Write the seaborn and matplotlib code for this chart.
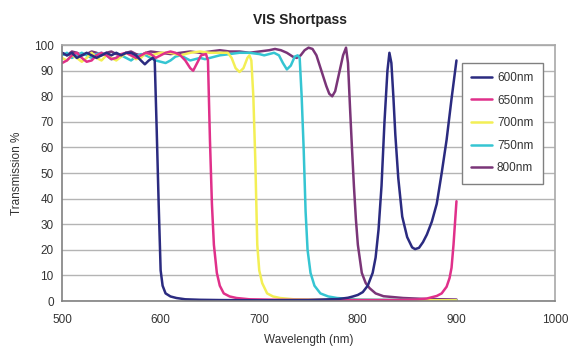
import numpy as np
import pandas as pd
import matplotlib
matplotlib.use("Agg")
import matplotlib.pyplot as plt
import seaborn as sns

wl_600 = [500, 505, 510, 515, 520, 525, 530, 535, 540, 545, 550, 555, 560, 565, 570, 575, 580, 584, 588,
          592, 594, 596, 598, 600, 602, 605, 610, 616, 625, 640, 660, 700, 750, 780, 790, 795, 800, 805, 810,
          815, 818, 821, 824, 827, 830, 832, 834, 836, 838, 841, 845, 850, 855, 858, 862, 866, 870, 875,
          880, 885, 890, 895, 900]
tr_600 = [97, 96, 97, 95, 96, 97, 96, 95, 96, 97, 96, 97, 96, 97, 97, 96, 94, 92.5, 94,
          95, 94, 67, 38, 12, 6, 3, 1.8, 1.2, 0.7, 0.5, 0.4, 0.3, 0.4, 0.8, 1.3, 1.8, 2.4, 3.5, 6,
          11, 17, 28, 45, 70, 90, 97, 93, 80, 65, 48, 33, 25, 21, 20.3, 20.8, 23, 26, 31,
          38, 50, 63, 79, 94]

wl_650 = [500, 505, 510, 515, 520, 525, 530, 535, 540, 545, 550, 555, 560, 565, 570, 575, 580, 585, 590,
          595, 600, 605, 610, 615, 620, 625, 630, 633, 637, 641, 646, 648, 650, 652, 654, 657, 660, 664,
          670, 677, 690, 720, 780, 840, 860, 870, 875, 880, 885, 890, 893, 895, 897, 900]
tr_650 = [93, 94, 96, 97, 95, 93.5, 94, 96, 97, 96, 94.5, 95, 96.5, 97, 96, 95, 96, 97, 96.5,
          95, 96, 97, 97.5, 97, 96, 94, 91, 90, 93, 96, 96.5, 94, 63, 38, 22, 11, 6, 3,
          1.8, 1.2, 0.7, 0.5, 0.4, 0.4, 0.6, 1, 1.5, 2, 3, 5.6, 9, 13, 22, 39]

wl_700 = [500, 505, 510, 515, 520, 525, 530, 535, 540, 545, 550, 555, 560, 565, 570, 575, 580, 585, 590,
          595, 600, 610, 620, 630, 640, 650, 660, 668, 672, 676, 680, 684, 688, 690, 692, 694, 696, 698,
          700, 703, 708, 714, 721, 735, 760, 800, 900]
tr_700 = [95, 94, 96, 95, 93.5, 95, 97, 95, 94, 96, 95, 94, 95.5, 97, 96, 94.5, 95, 97, 96,
          96.5, 97, 97, 96, 97, 97.5, 97, 97, 97, 95, 91, 89.5, 91, 95, 96, 94, 80, 55, 22,
          12, 7, 3, 1.8, 1.2, 0.7, 0.5, 0.4, 0.3]

wl_750 = [500, 505, 510, 515, 520, 525, 530, 535, 540, 545, 550, 555, 560, 565, 570, 575, 580, 585, 590,
          595, 600, 605, 610, 615, 620, 625, 630, 635, 640, 645, 650, 660, 670, 680, 690, 700, 705, 710,
          715, 720, 724, 728, 732, 736, 739, 741, 743, 745, 747, 749, 752, 756, 762, 770, 779, 800, 850, 900]
tr_750 = [96, 97, 95, 96, 97, 96, 95, 96.5, 97, 96, 94.5, 95, 96, 95, 94, 95.5, 96.5, 96, 95,
          94, 93.5, 93, 94, 95.5, 96, 95, 94, 94.5, 95, 94.5, 95, 96, 96.5, 97, 97, 96.5, 96, 96.5,
          97, 96, 93, 90.5, 92, 95.5, 96, 95, 80, 60, 35, 20, 11, 6, 3, 1.8, 1.2, 0.6, 0.4, 0.3]

wl_800 = [500, 505, 510, 515, 520, 525, 530, 535, 540, 545, 550, 555, 560, 565, 570, 575, 580, 585, 590,
          600, 610, 620, 630, 640, 650, 660, 670, 680, 690, 700, 710, 716, 722, 728, 734, 738, 742, 746,
          750, 754, 758, 763, 768, 771, 774, 777, 781, 785, 788, 790, 792, 794, 796, 798, 800, 804, 808, 812,
          818, 826, 846, 870, 900]
tr_800 = [97, 96, 97.5, 97, 96, 96.5, 97.5, 97, 96, 97, 97.5, 96.5, 96, 97, 97.5, 96.5, 96, 97, 97.5,
          97, 96.5, 97, 97.5, 97, 97.5, 98, 97.5, 97.5, 97, 97.5, 98, 98.5, 98, 97, 95.5, 95, 96, 98,
          99, 98.5, 96, 90, 84, 81, 80, 82, 89, 96, 99, 93, 76, 60, 45, 32, 22, 11, 7, 5,
          3, 1.9, 1.2, 0.8, 0.6]

labels = ["600nm", "650nm", "700nm", "750nm", "800nm"]
colors = ["#2b2b80", "#e0308a", "#f3ef55", "#35c5d2", "#7a3578"]

frames = []
for lab, wl, tr in zip(labels, [wl_600, wl_650, wl_700, wl_750, wl_800],
                       [tr_600, tr_650, tr_700, tr_750, tr_800]):
    frames.append(pd.DataFrame({"wavelength": wl, "transmission": tr, "filter": lab}))
df = pd.concat(frames, ignore_index=True)

sns.set_style("white")
plt.rcParams["font.family"] = ["Liberation Sans", "DejaVu Sans"]

fig = plt.figure(figsize=(5.77, 3.58), dpi=100)
ax = fig.add_axes([0.1075, 0.159, 0.8545, 0.715])

# draw in reverse so navy ends up on top like the original
for lab, col in list(zip(labels, colors))[::-1]:
    sub = df[df["filter"] == lab]
    sns.lineplot(data=sub, x="wavelength", y="transmission", color=col, linewidth=1.8,
                 ax=ax, label=lab)

ax.set_xlim(500, 1000)
ax.set_ylim(0, 100)
ax.set_xticks(range(500, 1001, 100))
ax.set_yticks(range(0, 101, 10))
ax.yaxis.grid(True, color="#b4b4b4", linewidth=1)
ax.set_axisbelow(True)

for side in ["top", "right"]:
    ax.spines[side].set_color("#a8a8a8")
    ax.spines[side].set_linewidth(1.2)
for side in ["left", "bottom"]:
    ax.spines[side].set_color("#808080")
    ax.spines[side].set_linewidth(1.2)

ax.tick_params(axis="both", direction="out", length=3, width=1, color="#808080",
               labelsize=8.5, labelcolor="#333333", pad=3)
ax.tick_params(axis="x", pad=6)

ax.set_xlabel("Wavelength (nm)", fontsize=8.5, color="#333333", labelpad=6)
ax.set_ylabel("Transmission %", fontsize=8.5, color="#333333", labelpad=8)

handles, labs = ax.get_legend_handles_labels()
order = [labs.index(l) for l in labels]
leg = ax.legend([handles[i] for i in order], labels, loc="upper right",
                bbox_to_anchor=(0.987, 0.955), fontsize=8.5, frameon=True, fancybox=False,
                handlelength=1.8, handletextpad=0.4, labelspacing=0.9, borderpad=0.8,
                edgecolor="#808080", framealpha=1)
leg.get_frame().set_linewidth(1)
for t in leg.get_texts():
    t.set_color("#333333")

fig.text(0.52, 0.945, "VIS Shortpass", ha="center", va="center", fontsize=10,
         fontweight="bold", color="#222222")

fig.savefig("out.png", dpi=100)
